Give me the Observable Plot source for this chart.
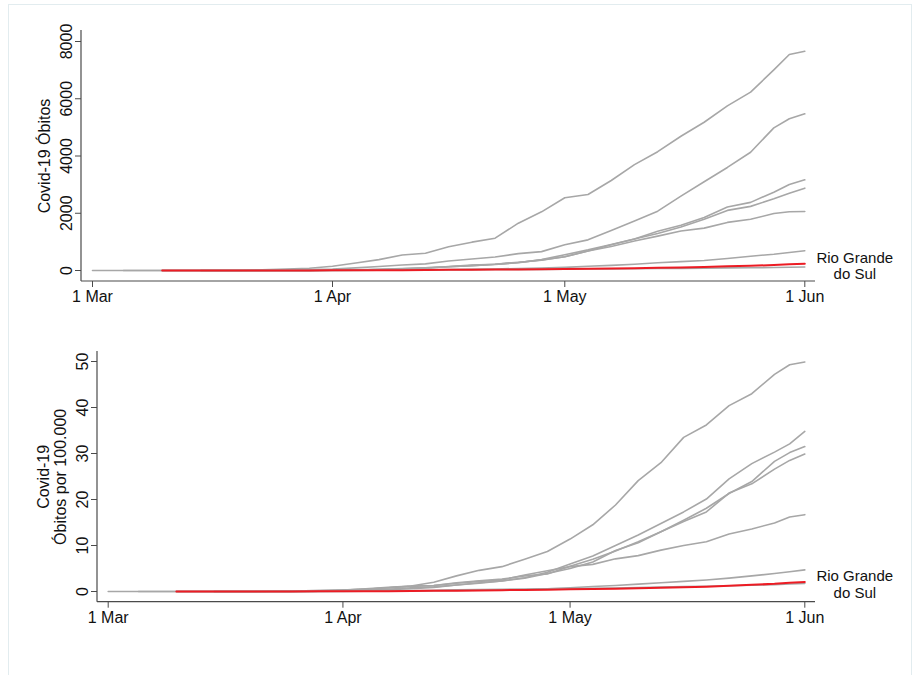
<!DOCTYPE html>
<html>
<head>
<meta charset="utf-8">
<script src="https://cdn.jsdelivr.net/npm/d3@7"></script>
<script src="https://cdn.jsdelivr.net/npm/@observablehq/plot@0.6"></script>
<style>
  html, body { margin: 0; padding: 0; background: #fff; }
  body { width: 919px; height: 675px; overflow: hidden; position: relative;
         font-family: "Liberation Sans", Arial, Helvetica, sans-serif; }
  #border { position: absolute; left: 8px; top: 4px; width: 904px; height: 700px;
            border: 1px solid #e2ecef; box-sizing: border-box; }
  #top { position: absolute; left: 0; top: 0; }
  #bottom { position: absolute; left: 0; top: 320px; }
</style>
</head>
<body>
<div id="border"></div>
<div id="top"></div>
<div id="bottom"></div>
<script>
// ---- data ----
const dates = ["2020-03-01","2020-03-05","2020-03-10","2020-03-15","2020-03-20","2020-03-25","2020-03-29",
  "2020-04-01","2020-04-04","2020-04-07","2020-04-10","2020-04-13","2020-04-16","2020-04-19","2020-04-22",
  "2020-04-25","2020-04-28","2020-05-01","2020-05-04","2020-05-07","2020-05-10","2020-05-13","2020-05-16",
  "2020-05-19","2020-05-22","2020-05-25","2020-05-28","2020-05-30","2020-06-01"];

const states = ["SP", "RJ", "CE", "PE", "AM", "BA", "SC", "RS"];
const highlight = "RS";
const highlightLabel = "Rio Grande\ndo Sul";

// cumulative deaths
const deathsSP = [0,0,0,0,2,40,80,150,260,380,540,605,830,990,1129,1653,2050,2540,2655,3144,3700,4150,4690,5180,5750,6230,7011,7546,7661];
const deathsRJ = [null,0,0,0,2,10,30,50,90,140,190,230,330,400,470,590,660,900,1071,1400,1730,2073,2600,3100,3600,4130,4984,5300,5473];
const deathsCE = [null,null,null,0,0,2,5,15,25,45,70,95,130,170,210,270,380,550,720,910,1100,1370,1580,1850,2220,2380,2736,3004,3169];
const deathsPE = [null,null,null,0,0,1,4,10,20,35,60,90,130,170,220,280,370,480,680,900,1100,1290,1520,1790,2100,2240,2504,2702,2876];
const deathsAM = [null,null,null,0,0,1,3,10,20,30,50,80,140,190,220,290,360,480,680,840,1030,1200,1380,1480,1680,1790,1990,2050,2061];
const deathsBA = [null,null,0,0,0,1,3,5,8,12,18,25,35,45,55,70,85,110,150,180,220,270,310,350,420,500,570,630,690];
const deathsSC = [null,null,0,0,0,1,2,3,6,10,15,20,25,30,33,36,40,45,50,55,62,68,75,82,90,98,105,112,120];
const deathsRS = [null,null,0,0,0,1,3,5,6,8,12,16,22,27,33,38,45,55,62,70,80,92,105,120,145,165,190,215,234];

// deaths per 100.000
const rateSP = [0,0,0,0,0,0.1,0.2,0.3,0.6,0.9,1.2,1.3,1.8,2.2,2.5,3.6,4.5,5.4,5.9,7.1,7.8,9.0,10.0,10.8,12.5,13.6,14.9,16.2,16.7];
const rateRJ = [null,0,0,0,0,0.1,0.2,0.3,0.5,0.8,1.1,1.3,1.9,2.3,2.7,3.4,3.8,5.5,7.0,8.8,10.8,13.0,15.5,18.1,21.3,23.9,28.3,30.2,31.5];
const rateCE = [null,null,null,0,0,0,0.05,0.2,0.3,0.5,0.8,1.0,1.4,1.9,2.3,3.0,4.2,6.0,7.7,10.0,12.3,14.8,17.3,20.1,24.5,27.8,30.3,32.1,34.8];
const ratePE = [null,null,null,0,0,0,0.04,0.1,0.2,0.4,0.6,0.9,1.4,1.8,2.3,2.9,3.9,5.0,6.4,8.9,10.6,13.0,15.2,17.3,21.4,23.4,26.6,28.5,29.9];
const rateAM = [null,null,null,0,0,0,0.07,0.3,0.5,0.8,1.2,2.0,3.4,4.6,5.4,7.0,8.7,11.4,14.5,18.8,24.1,28.0,33.5,36.2,40.4,43.0,47.2,49.3,49.9];
const rateBA = [null,null,0,0,0,0,0.02,0.03,0.05,0.08,0.12,0.17,0.24,0.3,0.37,0.47,0.57,0.8,1.1,1.3,1.6,1.9,2.2,2.5,2.9,3.4,3.9,4.3,4.7];
const rateSC = [null,null,0,0,0,0.01,0.03,0.04,0.08,0.14,0.2,0.28,0.35,0.42,0.46,0.5,0.56,0.63,0.7,0.77,0.87,0.95,1.05,1.15,1.26,1.37,1.5,1.62,1.75];
const rateRS = [null,null,0,0,0,0.01,0.03,0.04,0.05,0.07,0.1,0.14,0.19,0.24,0.29,0.33,0.4,0.48,0.54,0.62,0.7,0.81,0.92,1.05,1.27,1.45,1.67,1.89,2.05];

const xTickDates = ["2020-03-01", "2020-04-01", "2020-05-01", "2020-06-01"];
const yTicksDeaths = [0, 2000, 4000, 6000, 8000];
const yTicksRate = [0, 10, 20, 30, 40, 50];
const labelDeaths = "Covid-19 Óbitos";
const labelRate = "Covid-19\nÓbitos por 100.000";

// ---- build rows ----
function buildRows(seriesList) {
  const rows = [];
  states.forEach((s, i) => {
    seriesList[i].forEach((v, j) => {
      if (v != null) rows.push({ date: new Date(dates[j]), state: s, value: v });
    });
  });
  return rows;
}
const deathRows = buildRows([deathsSP, deathsRJ, deathsCE, deathsPE, deathsAM, deathsBA, deathsSC, deathsRS]);
const rateRows = buildRows([rateSP, rateRJ, rateCE, ratePE, rateAM, rateBA, rateSC, rateRS]);

const FONT = "'Liberation Sans', Arial, Helvetica, sans-serif";
const xDomain = [new Date(xTickDates[0]), new Date(xTickDates[xTickDates.length - 1])];
const WIDTH = 919, MR = 104, AXIS = "#4a4a4a";

function panel(o) {
  const others = o.rows.filter(d => d.state !== highlight);
  const main = o.rows.filter(d => d.state === highlight);
  const svg = Plot.plot({
    width: WIDTH,
    height: o.height,
    marginLeft: o.marginLeft,
    marginRight: MR,
    marginTop: o.marginTop,
    marginBottom: o.marginBottom,
    style: { fontFamily: FONT, fontSize: "16px", color: "#111", background: "transparent" },
    x: { type: "utc", domain: xDomain, insetLeft: o.insetLeft, insetRight: 10.7 },
    y: { domain: o.yDomain, insetTop: o.insetTop, insetBottom: o.insetBottom },
    marks: [
      Plot.axisX({
        ticks: xTickDates.map(d => new Date(d)),
        tickFormat: d3.utcFormat("%-d %b"),
        tickSize: 6, tickPadding: 3, label: null,
        stroke: AXIS, fill: "#111", fontSize: 16
      }),
      Plot.axisY({
        ticks: o.yTicks,
        tickFormat: d3.format("d"),
        tickSize: 6, tickPadding: 4, tickRotate: -90, label: null,
        stroke: AXIS, fill: "#111", fontSize: 16
      }),
      Plot.text([o.yLabel], {
        frameAnchor: "left", dx: o.labelDx, rotate: -90, text: d => d,
        fontSize: 16, textAnchor: "middle", lineAnchor: "middle", lineHeight: 1.05, fill: "#111"
      }),
      Plot.line(others, { x: "date", y: "value", z: "state", stroke: "#a7a7a7", strokeWidth: 1.6 }),
      Plot.line(main, { x: "date", y: "value", stroke: "#ec1c24", strokeWidth: 2 }),
      Plot.text(main.slice(-1), {
        x: "date", y: "value", text: () => highlightLabel, dx: 50, dy: o.textDy,
        fontSize: 15, textAnchor: "middle", lineAnchor: "middle", lineHeight: 1.1, fill: "#111"
      })
    ]
  });
  // axis lines along the left and bottom edges of the plot frame
  const s = d3.select(svg);
  const x0 = o.marginLeft, x1 = WIDTH - MR, y0 = o.marginTop, y1 = o.height - o.marginBottom;
  s.append("line").attr("x1", x0).attr("x2", x1).attr("y1", y1).attr("y2", y1)
    .attr("stroke", AXIS).attr("stroke-width", 1.2);
  s.append("line").attr("x1", x0).attr("x2", x0).attr("y1", y0).attr("y2", y1)
    .attr("stroke", AXIS).attr("stroke-width", 1.2);
  return svg;
}

document.getElementById("top").appendChild(panel({
  rows: deathRows, height: 320, marginLeft: 81, marginTop: 30, marginBottom: 39,
  insetLeft: 11, insetTop: 11, insetBottom: 11, yDomain: [0, 8000], yTicks: yTicksDeaths,
  yLabel: labelDeaths, labelDx: -37, textDy: 2
}));

document.getElementById("bottom").appendChild(panel({
  rows: rateRows, height: 355, marginLeft: 97, marginTop: 31, marginBottom: 73.3,
  insetLeft: 10.7, insetTop: 10, insetBottom: 10.7, yDomain: [0, 50], yTicks: yTicksRate,
  yLabel: labelRate, labelDx: -45, textDy: 2
}));
</script>
</body>
</html>
